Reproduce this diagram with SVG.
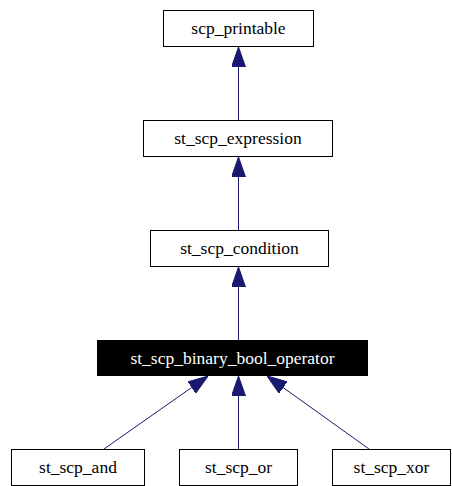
<svg xmlns="http://www.w3.org/2000/svg" width="452" height="486" viewBox="0 0 452 486">
<style>
.box{fill:#ffffff;stroke:#000000;stroke-width:1}
.sel{fill:#000000;stroke:#000000;stroke-width:1}
.lbl{font-family:"Liberation Serif","Times New Roman",serif;font-size:17.5px;text-anchor:middle;fill:#000000}
.lblw{font-family:"Liberation Serif","Times New Roman",serif;font-size:17.5px;text-anchor:middle;fill:#ffffff}
.edge{stroke:#191970;stroke-width:1;fill:none;marker-end:url(#ah)}
</style>
<defs>
<marker id="ah" viewBox="0 0 20 14" refX="20" refY="7" markerWidth="20" markerHeight="14" markerUnits="userSpaceOnUse" orient="auto">
<path d="M0,0 L20,7 L0,14 z" fill="#191970" stroke="#191970" stroke-width="1"/>
</marker>
</defs>
<rect width="452" height="486" fill="#ffffff"/>
<g id="connectors">
<line class="edge" x1="238.5" y1="120" x2="238.5" y2="47"/>
<line class="edge" x1="238.5" y1="230" x2="238.5" y2="157"/>
<line class="edge" x1="238.5" y1="340" x2="238.5" y2="267"/>
<line class="edge" x1="238.5" y1="449" x2="238.5" y2="376"/>
<line class="edge" x1="104" y1="449" x2="208" y2="376"/>
<line class="edge" x1="369" y1="449" x2="267" y2="376"/>
</g>
<g id="scp_printable">
<rect class="box" x="163.5" y="10.5" width="150" height="36"/>
<text class="lbl" x="238.5" y="34">scp_printable</text>
</g>
<g id="st_scp_expression">
<rect class="box" x="143.5" y="120.5" width="189" height="36"/>
<text class="lbl" x="238" y="144">st_scp_expression</text>
</g>
<g id="st_scp_condition">
<rect class="box" x="150.5" y="230.5" width="178" height="36"/>
<text class="lbl" x="239.5" y="254">st_scp_condition</text>
</g>
<g id="st_scp_binary_bool_operator">
<rect class="sel" x="97.5" y="340.5" width="270" height="35"/>
<text class="lblw" x="232.5" y="364">st_scp_binary_bool_operator</text>
</g>
<g id="st_scp_and">
<rect class="box" x="11.5" y="449.5" width="133" height="36"/>
<text class="lbl" x="78" y="473">st_scp_and</text>
</g>
<g id="st_scp_or">
<rect class="box" x="179.5" y="449.5" width="118" height="36"/>
<text class="lbl" x="238.5" y="473">st_scp_or</text>
</g>
<g id="st_scp_xor">
<rect class="box" x="332.5" y="449.5" width="118" height="36"/>
<text class="lbl" x="391.5" y="473">st_scp_xor</text>
</g>
</svg>
